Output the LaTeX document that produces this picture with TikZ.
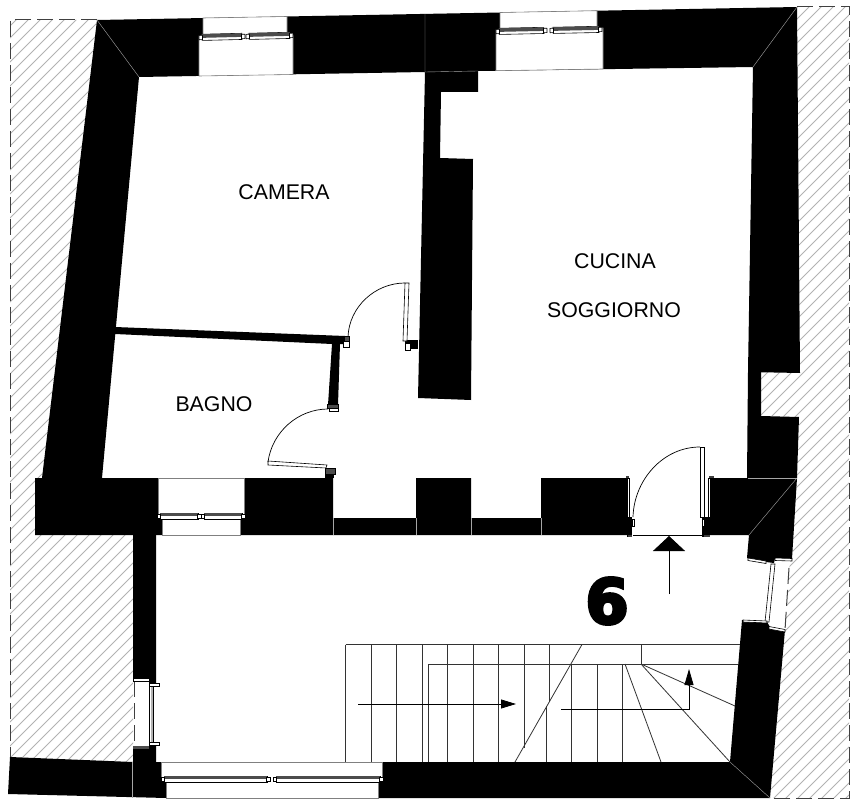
\documentclass[tikz,border=0pt]{standalone}
\usepackage{fontspec}
\setmainfont{Liberation Sans}
\newfontfamily\numfont{DejaVu Sans}[BoldFeatures={FakeBold=5}]
\usetikzlibrary{arrows.meta}

\tikzset{
    wall/.style={fill=black},
    opening/.style={fill=white, draw=gray, line width=0.6pt},
    hair/.style={draw=gray!70, line width=0.4pt},
    hatchline/.style={draw=gray!60, line width=0.8pt},
    border/.style={draw=gray!50!black, line width=1pt, dash pattern=on 16pt off 6pt},
    leaf/.style={fill=white, draw=black, line width=0.6pt},
    jamb/.style={fill=gray!60!black, draw=black, line width=0.5pt},
    swing/.style={draw=black, line width=0.7pt},
    stair/.style={draw=black!80, line width=0.8pt},
    flow/.style={draw=black, line width=0.8pt},
    room/.style={font=\fontsize{21.3}{26}\selectfont},
}

% one window leaf: x, y, length, angle
\newcommand{\sash}[4]{
    \begin{scope}[shift={(#1,#2)}, rotate=#4]
        \draw[leaf] (2,-3.2) rectangle (#3-2,3);
        \fill[gray!60!black] (2,-3.2) rectangle (#3-2,0.4);
        \draw[leaf] (-1,-2.2) rectangle (2.5,2.2);
        \draw[leaf] (#3-2.5,-2.2) rectangle (#3+1,2.2);
    \end{scope}
}

\begin{document}
\begin{tikzpicture}[x=1pt, y=-1pt]
    \useasboundingbox (0,0) rectangle (860,805);
    \fill[white] (0,0) rectangle (860,805);

    % hatched neighbours
    \begin{scope}
        \clip (10,20) -- (97,20) -- (42,478) -- (35,478) -- (35,535) -- (133,535) -- (133,762) -- (10,757) -- cycle
              (797,7) -- (849,7) -- (849,798) -- (770,798) -- (785,630) -- (789,568) -- (792,559) -- (797,478) -- (799,417) -- (761,416) -- (761,372) -- (800,373) -- cycle;
        \foreach \k in {0,12,...,1716}
            \draw[hatchline] (\k,0) -- (\k-900,900);
    \end{scope}
    \draw[border] (97,20) -- (10,20) -- (10,757);
    \draw[border] (797,7) -- (849,7) -- (849,798) -- (770,798);
    \draw[border] (134,681) -- (134,746);
    \draw[border] (789,568) -- (785,630);

    % walls
    \fill[wall] (97,20) -- (797,7) -- (800,373) -- (748,372) -- (753,67) -- (478,71) -- (478,92) -- (441,92) -- (440,158) -- (473,159) -- (471,400) -- (418,398) -- (425,72) -- (139,77) -- (102,478) -- (42,478) -- cycle;
    \fill[wall] (748,372) -- (761,372) -- (761,416) -- (799,417) -- (797,478) -- (792,559) -- (775,558) -- (774,563) -- (766,562) -- (747,558) -- (749,535) -- (709,535) -- (709,478) -- (747,478) -- cycle;
    \fill[wall] (35,478) -- (333,478) -- (333,518) -- (416,518) -- (416,478) -- (471,478) -- (471,518) -- (541,518) -- (541,478) -- (627,478) -- (627,535) -- (35,535) -- cycle;
    \fill[wall] (133,535) -- (156,535) -- (156,683) -- (149,683) -- (149,679) -- (133,679) -- cycle;
    \fill[wall] (10,757) -- (133,762) -- (133,748) -- (149,748) -- (149,745) -- (156,745) -- (156,762) -- (161,762) -- (161,779) -- (166,779) -- (166,798) -- (8,794) -- cycle;
    \fill[wall] (382,762) -- (730,762) -- (742,620) -- (767,622) -- (770,627) -- (785,630) -- (770,798) -- (378,798) -- (378,779) -- (382,779) -- cycle;
    \fill[wall] (115,327) -- (345,336) -- (345,344) -- (340,344) -- (338,405) -- (328,405) -- (332,344) -- (115,334) -- cycle;
    \fill[wall] (405,340) rectangle (418,349);
    \fill[wall] (325,468) rectangle (334,478);
    \fill[wall] (627,517) rectangle (632,537);
    \fill[wall] (702,517) rectangle (709,537);

    % joints in the walls
    \draw[hair] (97,20) -- (139,77);
    \draw[hair] (797,7) -- (753,67);
    \draw[hair] (797,478) -- (749,535);
    \draw[hair] (730,762) -- (770,798);
    \draw[hair] (425,14) -- (425,72) -- (478,71);
    \draw[hair] (748,478) -- (797,478);
    \draw[hair] (132,762) -- (132,798);
    \foreach \k in {333,416,471,541}
        \draw[hair] (\k,518) -- (\k,535);

    % window openings
    \draw[opening] (203,18) -- (287,16.5) -- (287,35) -- (293,35) -- (293,74.5) -- (199,76) -- (199,37) -- (203,37) -- cycle;
    \draw[opening] (500,12.5) -- (597,10.7) -- (597,28) -- (603,28) -- (603,69) -- (496,70.7) -- (496,31) -- (500,31) -- cycle;
    \draw[opening] (158,478) -- (244,478) -- (244,515) -- (240,515) -- (240,535) -- (162,535) -- (162,515) -- (158,515) -- cycle;
    \draw[opening] (161,762) -- (382,762) -- (382,779) -- (378,779) -- (378,798) -- (166,798) -- (166,779) -- (161,779) -- cycle;

    \sash{200}{37.5}{44}{1.4}
    \sash{247}{36.5}{45}{1.4}
    \sash{497}{31.5}{49}{1.2}
    \sash{551}{30.5}{50}{1.2}
    \sash{158}{516}{42}{0}
    \sash{202}{516}{42}{0}
    \sash{162}{779}{107}{0}
    \sash{274}{779}{108}{0}

    % side windows
    \draw[leaf] (149,683) rectangle (153,744);
    \fill[gray!60] (151.2,685) rectangle (153,742);
    \draw[leaf] (149,683) rectangle (159,686.5);
    \draw[leaf] (149,742) rectangle (159,745.5);
    \draw[leaf] (133,678) rectangle (149,681);
    \fill[gray!60!black] (133,746) rectangle (149,749);
    \draw[leaf] (771,564) -- (775,564) -- (769,622) -- (765,622) -- cycle;
    \draw[leaf] (748,558) -- (766,561) -- (766,563.5) -- (748,560.5) -- cycle;
    \draw[leaf] (775,558) -- (792,558.5) -- (792,561) -- (775,560.5) -- cycle;
    \draw[leaf] (743,620) -- (767,621) -- (767,623) -- (743,622) -- cycle;
    \draw[leaf] (769,626.5) -- (785,629.5) -- (785,632) -- (769,629) -- cycle;

    % doors
    \draw[leaf] (405,283) -- (409,283) -- (407,341) -- (403,341) -- cycle;
    \draw[swing] (348,337) .. controls (349,307) and (375,283) .. (405,283);
    \draw[jamb] (344,336) rectangle (349,341);
    \draw[leaf] (343,341) rectangle (349,347);
    \draw[leaf] (405,343) rectangle (410,350);
    \draw[leaf] (268,461) -- (327,465) -- (326,468) -- (268,465) -- cycle;
    \draw[swing] (268,462) .. controls (272,432) and (298,409) .. (328,409);
    \draw[jamb] (327,404) rectangle (338,408.5);
    \draw[leaf] (329,408.5) rectangle (338,411);
    \draw[jamb] (325,468) rectangle (335,474);
    \draw[leaf] (700,447) rectangle (704,517);
    \draw[swing] (700,447) .. controls (663,447) and (634,480) .. (633,517);
    \draw[leaf] (627,478) rectangle (628.8,517);
    \draw[leaf] (708,478) rectangle (710,517);
    \draw[leaf] (632,519) rectangle (634,526);
    \draw[leaf] (702,519) rectangle (704.5,526);
    \fill[gray!50!black] (626,476) rectangle (628.5,478);
    \fill[gray!50!black] (709,476) rectangle (714,478);
    \fill[gray!50!black] (628,535) rectangle (632,537);
    \fill[gray!50!black] (704,535) rectangle (710,537);
    \draw[swing] (633,535) -- (703,535);

    % stairs
    \draw[stair] (345.5,644.5) -- (740,644.5);
    \draw[stair] (428,664) -- (738,664);
    \foreach \k in {345.5,371,396.5,422,447,473,498}
        \draw[stair] (\k,644.5) -- (\k,762);
    \draw[stair] (428,664) -- (428,762);
    \draw[stair] (524,644.5) -- (524,748);
    \draw[stair] (549,644.5) -- (549,702);
    \draw[stair] (546,706) -- (546,762);
    \foreach \k in {571.5,597,622}
        \draw[stair] (\k,664) -- (\k,762);
    \draw[stair] (582,644.5) -- (515,762);
    \draw[stair] (641,644.5) -- (641,664);
    \draw[stair] (625,664) -- (661,762);
    \draw[stair] (641,664) -- (730,762);
    \draw[stair] (641,664) -- (735,706);

    % arrows
    \coordinate (upstart) at (358,704);
    \coordinate (upend) at (516,704);
    \coordinate (turnstart) at (561,709);
    \coordinate (turnmid) at (689,709);
    \coordinate (turnend) at (689,669);
    \coordinate (entrystart) at (669,594);
    \coordinate (entryend) at (669,536);
    \draw[flow, -{Triangle[length=15pt,width=9pt]}] (upstart) -- (upend);
    \draw[flow, -{Triangle[length=16pt,width=9pt]}] (turnstart) -- (turnmid) -- (turnend);
    \draw[flow, -{Triangle[length=15pt,width=32pt]}] (entrystart) -- (entryend);

    % labels
    \node[room] (camera) at (284,192) {CAMERA};
    \node[room] (bagno) at (214,404) {BAGNO};
    \node[room] (cucina) at (615,261) {CUCINA};
    \node[room] (soggiorno) at (614,310) {SOGGIORNO};
    \node[font=\numfont\bfseries\fontsize{62}{70}\selectfont] (six) at (607,601) {6};
\end{tikzpicture}
\end{document}
